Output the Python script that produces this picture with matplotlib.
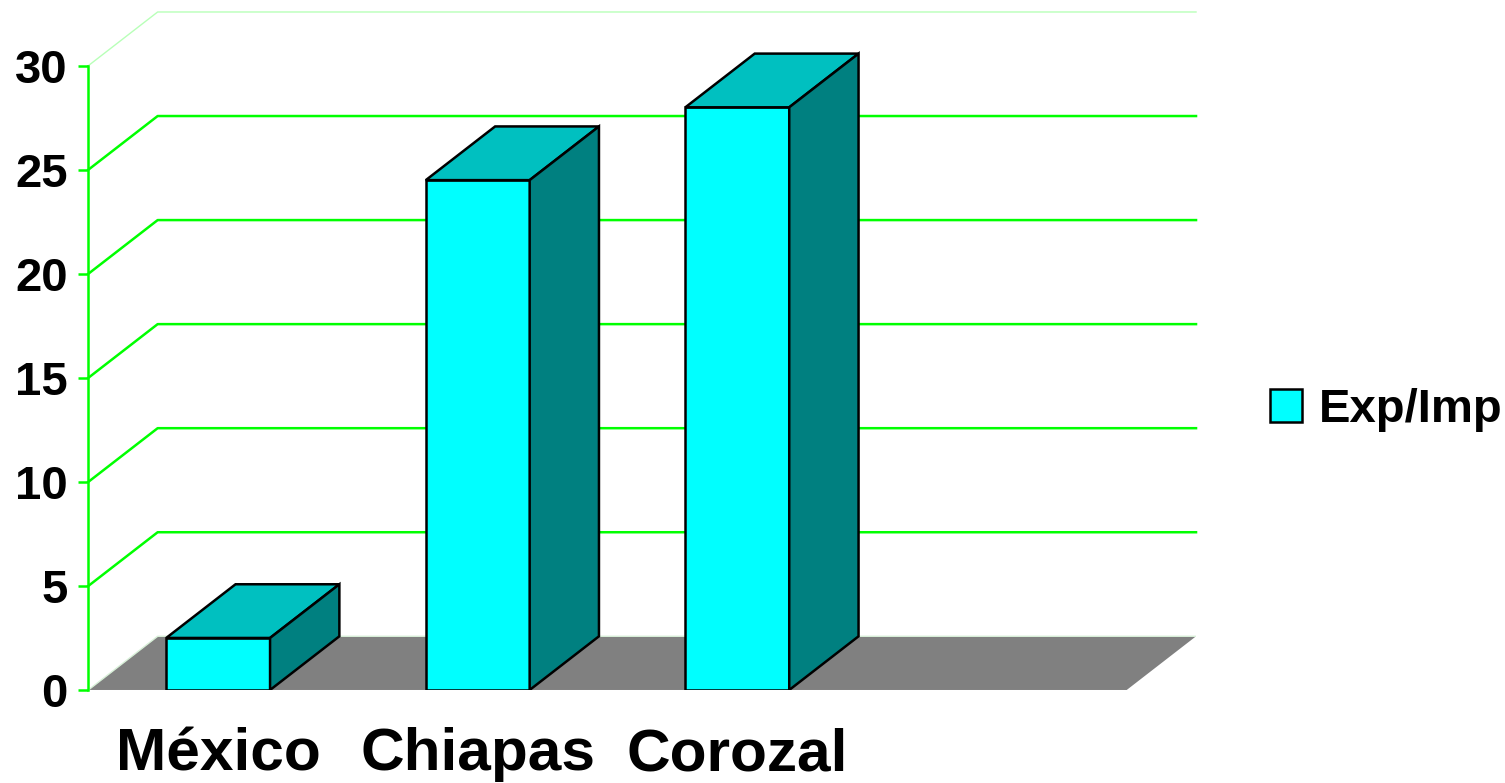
import matplotlib.pyplot as plt
from matplotlib.patches import Polygon, Patch

# chart data
categories = ['México', 'Chiapas', 'Corozal']
values = [2.5, 24.5, 28.0]
series_name = 'Exp/Imp'
y_ticks = [0, 5, 10, 15, 20, 25, 30]

# 3d look: slots on the x axis, and the depth shift of the back wall
n_slots = 4
bar_width = 0.4
depth_x = 0.267
depth_y = 2.58

front_color = '#00FFFF'
top_color = '#00C0C0'
side_color = '#008080'
floor_color = '#808080'
grid_color = '#00FF00'

plt.rcParams['font.family'] = ['Liberation Sans', 'DejaVu Sans']
plt.rcParams['font.weight'] = 'bold'

fig = plt.figure(figsize=(15.05, 7.83), dpi=100)
ax = fig.add_axes([0.0587, 0.1188, 0.736, 0.8659])
ax.set_xlim(0, n_slots + depth_x)
ax.set_ylim(0, y_ticks[-1] + depth_y)

# gridlines on the side wall and back wall
for v in y_ticks[1:]:
    col = grid_color if v < y_ticks[-1] else '#b8ffb8'
    lw = 1.8 if v < y_ticks[-1] else 1.0
    ax.plot([0, depth_x, n_slots + depth_x], [v, v + depth_y, v + depth_y],
            color=col, lw=lw, zorder=1, clip_on=False)

# floor
floor = Polygon([(0, 0), (n_slots, 0), (n_slots + depth_x, depth_y), (depth_x, depth_y)],
                closed=True, facecolor=floor_color, edgecolor='none', zorder=2)
ax.add_patch(floor)
ax.plot([0, depth_x, n_slots + depth_x], [0, depth_y, depth_y], color='#d8f0d8', lw=1, zorder=2)

# bars
for i, h in enumerate(values):
    x0 = i + 0.5 - bar_width / 2
    x1 = x0 + bar_width
    front = Polygon([(x0, 0), (x1, 0), (x1, h), (x0, h)], closed=True,
                    facecolor=front_color, edgecolor='black', lw=1.8, zorder=3)
    top = Polygon([(x0, h), (x1, h), (x1 + depth_x, h + depth_y), (x0 + depth_x, h + depth_y)],
                  closed=True, facecolor=top_color, edgecolor='black', lw=1.8, zorder=3)
    side = Polygon([(x1, 0), (x1 + depth_x, depth_y), (x1 + depth_x, h + depth_y), (x1, h)],
                   closed=True, facecolor=side_color, edgecolor='black', lw=1.8, zorder=3)
    for p in (front, top, side):
        p.set_joinstyle('miter')
        ax.add_patch(p)

# axes
for s in ['top', 'right', 'bottom']:
    ax.spines[s].set_visible(False)
ax.spines['left'].set_color(grid_color)
ax.spines['left'].set_linewidth(1.8)
ax.spines['left'].set_bounds(0, y_ticks[-1])
ax.set_yticks(y_ticks)
ax.set_yticklabels([str(t) for t in y_ticks], fontsize=34, fontweight='bold')
ax.tick_params(axis='y', colors=grid_color, labelcolor='black', length=7, width=1.8, pad=8)
ax.set_xticks([i + 0.5 for i in range(len(categories))])
ax.set_xticklabels(categories, fontsize=43.5, fontweight='bold')
ax.tick_params(axis='x', length=0, pad=27)

# legend
handle = Patch(facecolor=front_color, edgecolor='black', lw=1.8, label=series_name)
fig.legend(handles=[handle], loc='center left', bbox_to_anchor=(1270 / 1505, 1 - 410 / 783),
           frameon=False, prop={'weight': 'bold', 'size': 34},
           handlelength=0.67, handleheight=0.67, handletextpad=0.36,
           borderpad=0, borderaxespad=0)

fig.savefig('out.png', dpi=100)
